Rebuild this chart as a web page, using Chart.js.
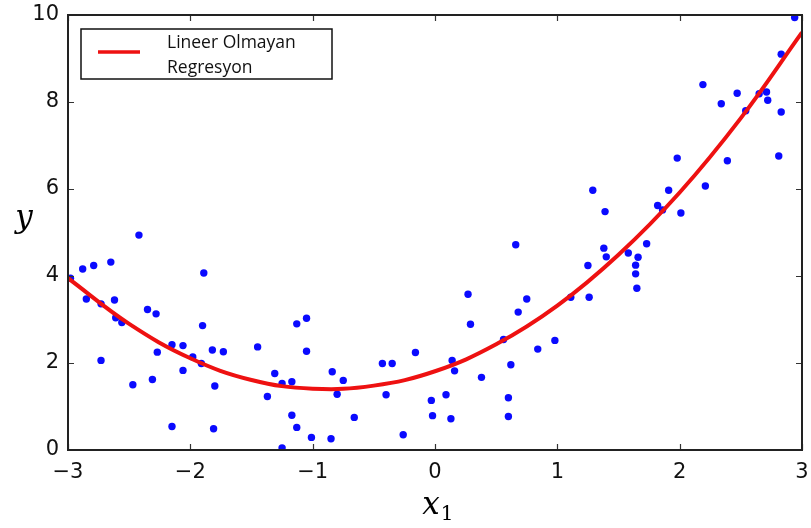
<!DOCTYPE html>
<html lang="tr">
<head>
<meta charset="UTF-8">
<title>Lineer Olmayan Regresyon</title>
<script src="https://cdn.jsdelivr.net/npm/chart.js"></script>
<style>
  html, body { margin: 0; padding: 0; background: #fff; }
  #wrap { width: 811px; height: 528px; }
</style>
</head>
<body>
<div id="wrap"><canvas id="chart" width="811" height="528"></canvas></div>
<script>
// veri noktaları
const pointX = [
  -2.42, -2.88, -2.79, -2.65, -2.98, -2.85, -2.73, -2.62, -2.61, -2.56,
  -2.35, -2.28, -1.89, -1.90, -2.73, -2.47, -2.31, -2.27, -2.15, -2.06,
  -2.06, -1.98, -1.91, -1.82, -1.73, -1.80, -2.15, -1.81, -1.45, -1.31,
  -1.37, -1.25, -1.17, -1.13, -1.05, -1.05, -1.17, -1.13, -1.25, -1.01,
  -0.85, -0.84, -0.80, -0.75, -0.66, -0.43, -0.35, -0.40, -0.26, -0.16,
  -0.03, -0.02, 0.09, 0.13, 0.14, 0.16, 0.27, 0.29, 0.38, 0.66,
  0.75, 0.68, 0.56, 0.62, 0.60, 0.60, 0.84, 0.98, 1.11, 1.26,
  1.25, 1.38, 1.40, 1.58, 1.66, 1.64, 1.64, 1.65, 1.73, 1.29,
  1.39, 1.82, 1.86, 1.91, 1.98, 2.01, 2.21, 2.39, 2.19, 2.34,
  2.47, 2.54, 2.65, 2.71, 2.72, 2.83, 2.81, 2.83, 2.94
];
const pointY = [
  4.94, 4.16, 4.24, 4.32, 3.95, 3.47, 3.36, 3.45, 3.04, 2.93,
  3.23, 3.13, 4.07, 2.86, 2.06, 1.50, 1.62, 2.25, 2.42, 2.40,
  1.83, 2.14, 1.99, 2.30, 2.26, 1.47, 0.54, 0.49, 2.37, 1.76,
  1.23, 1.53, 1.57, 2.90, 3.03, 2.27, 0.80, 0.52, 0.05, 0.29,
  0.26, 1.80, 1.28, 1.60, 0.75, 1.99, 1.99, 1.27, 0.35, 2.24,
  1.14, 0.79, 1.27, 0.72, 2.06, 1.82, 3.58, 2.89, 1.67, 4.72,
  3.47, 3.17, 2.54, 1.96, 1.20, 0.77, 2.32, 2.52, 3.51, 3.51,
  4.24, 4.64, 4.44, 4.53, 4.43, 4.25, 4.05, 3.72, 4.74, 5.97,
  5.48, 5.62, 5.52, 5.97, 6.71, 5.45, 6.07, 6.65, 8.40, 7.96,
  8.20, 7.80, 8.19, 8.23, 8.04, 7.77, 6.76, 9.10, 9.94
];

// regresyon eğrisi
const curveX = [-3, -2.5, -2, -1.5, -1, -0.5, 0, 0.5, 1, 1.5, 2, 2.5, 3];
const curveY = [3.95, 2.90, 2.11, 1.61, 1.41, 1.48, 1.81, 2.43, 3.32, 4.49, 5.92, 7.63, 9.60];

const xTicks = [-3, -2, -1, 0, 1, 2, 3];
const yTicks = [0, 2, 4, 6, 8, 10];
const legendLines = ['Lineer Olmayan', 'Regresyon'];

const points = pointX.map((x, i) => ({ x: x, y: pointY[i] }));
const curve = curveX.map((x, i) => ({ x: x, y: curveY[i] }));

const fmt = v => (v < 0 ? '\u2212' + Math.abs(v) : String(v));

// çerçeve, içe dönük tik çizgileri, eksen başlıkları ve lejant
const decor = {
  id: 'decor',
  afterDraw(chart) {
    const ctx = chart.ctx;
    const a = chart.chartArea;
    const sx = chart.scales.x, sy = chart.scales.y;
    ctx.save();
    ctx.strokeStyle = '#333';
    ctx.lineWidth = 1.2;
    ctx.beginPath();
    xTicks.forEach(v => {
      const px = Math.round(sx.getPixelForValue(v)) + 0.5;
      ctx.moveTo(px, a.bottom); ctx.lineTo(px, a.bottom - 6);
      ctx.moveTo(px, a.top); ctx.lineTo(px, a.top + 6);
    });
    yTicks.forEach(v => {
      const py = Math.round(sy.getPixelForValue(v)) + 0.5;
      ctx.moveTo(a.left, py); ctx.lineTo(a.left + 6, py);
      ctx.moveTo(a.right, py); ctx.lineTo(a.right - 6, py);
    });
    ctx.stroke();
    ctx.lineWidth = 2;
    ctx.strokeStyle = '#222';
    ctx.strokeRect(a.left, a.top, a.right - a.left, a.bottom - a.top);

    // eksen başlıkları
    ctx.fillStyle = '#000';
    ctx.textAlign = 'center';
    ctx.textBaseline = 'alphabetic';
    ctx.font = 'italic 31px "DejaVu Serif"';
    ctx.fillText('y', 24, 227);
    const cx = (a.left + a.right) / 2;
    ctx.fillText('x', cx - 4, 514);
    ctx.font = '20px "DejaVu Serif"';
    ctx.fillText('1', cx + 12, 520);

    // lejant
    const lx = 81, ly = 29, lw = 251, lh = 50;
    ctx.fillStyle = '#fff';
    ctx.fillRect(lx, ly, lw, lh);
    ctx.strokeStyle = '#111';
    ctx.lineWidth = 1.5;
    ctx.strokeRect(lx, ly, lw, lh);
    ctx.strokeStyle = '#ee1111';
    ctx.lineWidth = 3.5;
    ctx.beginPath();
    ctx.moveTo(98, 52); ctx.lineTo(140, 52);
    ctx.stroke();
    ctx.fillStyle = '#111';
    ctx.textAlign = 'left';
    ctx.font = '17.5px "Open Sans"';
    ctx.fillText(legendLines[0], 167, 48);
    ctx.fillText(legendLines[1], 167, 73);
    ctx.restore();
  }
};

new Chart(document.getElementById('chart'), {
  type: 'scatter',
  data: {
    datasets: [
      {
        type: 'line',
        label: 'Lineer Olmayan Regresyon',
        data: curve,
        borderColor: '#ee1111',
        borderWidth: 4,
        pointRadius: 0,
        tension: 0.4,
        fill: false
      },
      {
        label: 'veri',
        data: points,
        backgroundColor: '#0a0aff',
        borderWidth: 0,
        pointRadius: 3.7
      }
    ]
  },
  options: {
    responsive: false,
    animation: false,
    layout: { padding: { top: 15, right: 9, left: 0, bottom: 0 } },
    plugins: { legend: { display: false }, tooltip: { enabled: false } },
    scales: {
      x: {
        type: 'linear', min: -3, max: 3,
        afterBuildTicks: s => { s.ticks = xTicks.map(v => ({ value: v })); },
        afterFit: s => { s.height = 78; s.paddingLeft = 0; s.paddingRight = 0; },
        grid: { display: false, drawTicks: false },
        border: { display: false },
        ticks: { padding: 10, color: '#111', font: { family: 'DejaVu Sans', size: 21 }, callback: fmt }
      },
      y: {
        type: 'linear', min: 0, max: 10,
        afterBuildTicks: s => { s.ticks = yTicks.map(v => ({ value: v })); },
        afterFit: s => { s.width = 68; s.paddingTop = 0; s.paddingBottom = 0; },
        grid: { display: false, drawTicks: false },
        border: { display: false },
        ticks: { padding: 9, color: '#111', font: { family: 'DejaVu Sans', size: 21 }, callback: fmt }
      }
    }
  },
  plugins: [decor]
});
</script>
</body>
</html>
